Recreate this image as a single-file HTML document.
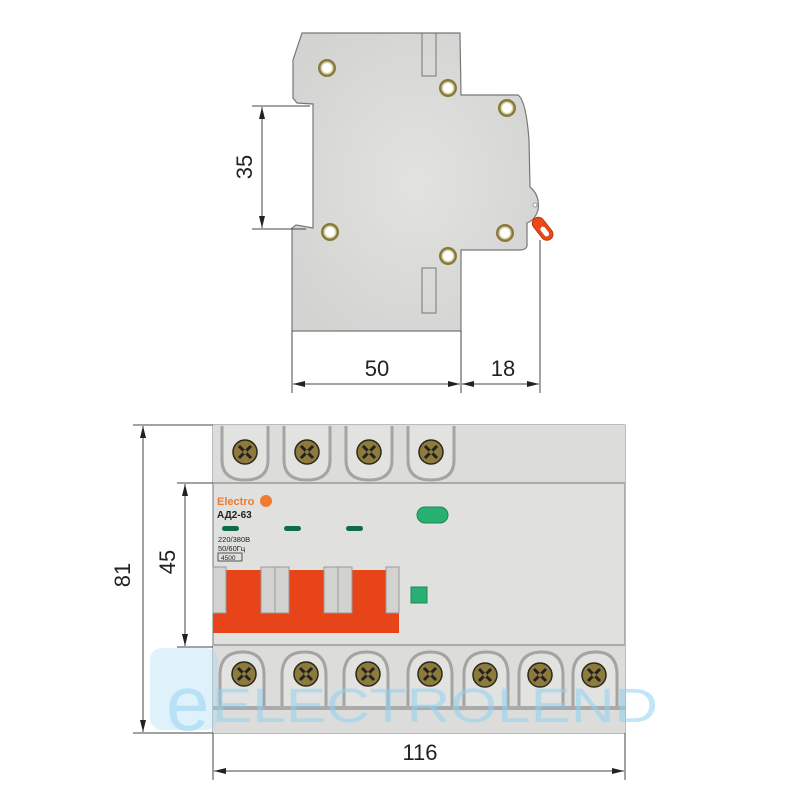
<!DOCTYPE html>
<html><head><meta charset="utf-8"><style>
html,body{margin:0;padding:0;background:#fff}
svg{display:block}
text{font-family:"Liberation Sans",sans-serif}
</style></head><body>
<svg width="800" height="800" viewBox="0 0 800 800" xmlns="http://www.w3.org/2000/svg">
<defs>
<radialGradient id="bg" cx="50%" cy="50%" r="60%"><stop offset="0" stop-color="#e2e3e1"/><stop offset="1" stop-color="#d3d4d2"/></radialGradient>
<marker id="a" viewBox="0 0 12 6" refX="12" refY="3" markerWidth="12" markerHeight="6" orient="auto-start-reverse" markerUnits="userSpaceOnUse"><path d="M0,0L12,3L0,6z" fill="#222"/></marker>
<g id="ss"><circle r="9" fill="#8a7a3a"/><circle r="6.5" fill="#d9d4b0"/><circle r="5" fill="#fff"/></g>
<g id="sc"><circle r="12" fill="#8d7a3c" stroke="#2a2a1a" stroke-width="1.5"/><path d="M-6,-6L6,6M6,-6L-6,6" stroke="#222" stroke-width="3"/><circle r="2" fill="#8d7a3c"/></g>
</defs>
<!-- top side view -->
<path d="M302,33 L460,33 L461,95 L518,95 Q526,100 529,140 L530,187 Q540,195 538,210 Q535,220 527,223 L527,246 Q526,250 520,250 L461,250 L461,331 L292,331 L292,228 L296,225 L313,228 L313,104 L297,103 L293,98 L293,60 Z" fill="url(#bg)" stroke="#777" stroke-width="1.2"/>
<rect x="422" y="33" width="14" height="43" fill="none" stroke="#777"/>
<rect x="422" y="268" width="14" height="45" fill="none" stroke="#777"/>
<use href="#ss" x="327" y="68"/><use href="#ss" x="448" y="88"/><use href="#ss" x="507" y="108"/>
<use href="#ss" x="330" y="232"/><use href="#ss" x="448" y="256"/><use href="#ss" x="505" y="233"/>
<circle cx="535" cy="205" r="2" fill="#fff" stroke="#888" stroke-width=".8"/>
<g transform="translate(542,228) rotate(-38)"><rect x="-6" y="-12" width="12" height="26" rx="6" fill="#e84a1a" stroke="#c23010"/><rect x="-2.5" y="-1" width="5" height="11" rx="2.5" fill="#fff"/></g>
<g stroke="#444" stroke-width="1" fill="none">
<line x1="252" y1="106" x2="310" y2="106"/><line x1="252" y1="229" x2="306" y2="229"/>
<line x1="262" y1="107" x2="262" y2="228" marker-start="url(#a)" marker-end="url(#a)"/>
<line x1="292" y1="331" x2="292" y2="393"/><line x1="461" y1="331" x2="461" y2="393"/><line x1="540" y1="240" x2="540" y2="393"/>
<line x1="293" y1="384" x2="460" y2="384" marker-start="url(#a)" marker-end="url(#a)"/>
<line x1="462" y1="384" x2="539" y2="384" marker-start="url(#a)" marker-end="url(#a)"/>
</g>
<text x="377" y="376" font-size="22" text-anchor="middle" fill="#222">50</text>
<text x="503" y="376" font-size="22" text-anchor="middle" fill="#222">18</text>
<text transform="translate(252,167) rotate(-90)" font-size="22" text-anchor="middle" fill="#222">35</text>
<!-- front view -->
<rect x="213" y="425" width="412" height="308" fill="#e0e1df" stroke="#777"/>
<rect x="213" y="425" width="412" height="58" fill="#dcdddb"/>
<line x1="213" y1="483" x2="625" y2="483" stroke="#aaa" stroke-width="2"/>
<rect x="213" y="645" width="412" height="88" fill="#dcdddb"/>
<line x1="213" y1="645" x2="625" y2="645" stroke="#aaa" stroke-width="2"/>
<g fill="#e2e3e1" stroke="#a4a5a3" stroke-width="3">
<path d="M222,426 L222,460 Q222,480 245,480 Q268,480 268,460 L268,426"/>
<path d="M284,426 L284,460 Q284,480 307,480 Q330,480 330,460 L330,426"/>
<path d="M346,426 L346,460 Q346,480 369,480 Q392,480 392,460 L392,426"/>
<path d="M408,426 L408,460 Q408,480 431,480 Q454,480 454,460 L454,426"/>
</g>
<use href="#sc" x="245" y="452"/><use href="#sc" x="307" y="452"/><use href="#sc" x="369" y="452"/><use href="#sc" x="431" y="452"/>
<g fill="#e2e3e1" stroke="#a4a5a3" stroke-width="3">
<path d="M220,706 L220,675 Q220,652 243,652 Q264,652 264,675 L264,706"/>
<path d="M282,706 L282,675 Q282,652 305,652 Q326,652 326,675 L326,706"/>
<path d="M344,706 L344,675 Q344,652 367,652 Q388,652 388,675 L388,706"/>
<path d="M408,706 L408,675 Q408,652 431,652 Q452,652 452,675 L452,706"/>
<path d="M464,706 L464,675 Q464,652 487,652 Q508,652 508,675 L508,706"/>
<path d="M519,706 L519,675 Q519,652 542,652 Q563,652 563,675 L563,706"/>
<path d="M573,706 L573,675 Q573,652 596,652 Q617,652 617,675 L617,706"/>
</g>
<rect x="213" y="706" width="412" height="4" fill="#aaa"/>
<use href="#sc" x="244" y="674"/><use href="#sc" x="306" y="674"/><use href="#sc" x="368" y="674"/><use href="#sc" x="430" y="674"/><use href="#sc" x="485" y="675"/><use href="#sc" x="540" y="675"/><use href="#sc" x="594" y="675"/>
<text x="217" y="505" font-size="11" font-weight="bold" fill="#f07a30">Electro</text>
<circle cx="266" cy="501" r="6" fill="#f07a30"/>
<text x="217" y="518" font-size="10" font-weight="bold" fill="#222" font-family="Liberation Sans,DejaVu Sans,sans-serif">АД2-63</text>
<rect x="222" y="526" width="17" height="5" rx="2.5" fill="#0d6b45"/>
<rect x="284" y="526" width="17" height="5" rx="2.5" fill="#0d6b45"/>
<rect x="346" y="526" width="17" height="5" rx="2.5" fill="#0d6b45"/>
<rect x="417" y="507" width="31" height="16" rx="8" fill="#27b071" stroke="#1a8a55"/>
<text x="218" y="542" font-size="7.5" fill="#222" font-family="Liberation Sans,DejaVu Sans,sans-serif">220/380В</text>
<text x="218" y="551" font-size="7.5" fill="#222" font-family="Liberation Sans,DejaVu Sans,sans-serif">50/60Гц</text>
<rect x="218" y="553" width="24" height="8" fill="none" stroke="#333" stroke-width=".8"/>
<text x="221" y="560" font-size="6.5" fill="#222">4500</text>
<rect x="213" y="570" width="186" height="63" fill="#e8441a"/>
<g fill="#d2d3d1" stroke="#999">
<rect x="213" y="567" width="13" height="46"/><rect x="261" y="567" width="14" height="46"/><rect x="275" y="567" width="14" height="46"/>
<rect x="324" y="567" width="14" height="46"/><rect x="338" y="567" width="14" height="46"/><rect x="386" y="567" width="13" height="46"/>
</g>
<rect x="411" y="587" width="16" height="16" fill="#27b071" stroke="#1a8a55"/>
<!-- watermark -->
<g opacity="0.55">
<rect x="150" y="648" width="68" height="82" rx="12" fill="#9fd6f0" opacity=".6"/>
<text x="166" y="730" font-size="78" fill="#7fcaf0">e</text>
<text x="212" y="722" font-size="48" fill="#8fd2f2" textLength="446" lengthAdjust="spacingAndGlyphs">ELECTROLEND</text>
</g>
<g stroke="#444" stroke-width="1" fill="none">
<line x1="133" y1="425" x2="213" y2="425"/><line x1="133" y1="733" x2="213" y2="733"/>
<line x1="143" y1="426" x2="143" y2="732" marker-start="url(#a)" marker-end="url(#a)"/>
<line x1="177" y1="483" x2="213" y2="483"/><line x1="177" y1="647" x2="213" y2="647"/>
<line x1="185" y1="484" x2="185" y2="646" marker-start="url(#a)" marker-end="url(#a)"/>
<line x1="213" y1="733" x2="213" y2="780"/><line x1="625" y1="733" x2="625" y2="780"/>
<line x1="214" y1="771" x2="624" y2="771" marker-start="url(#a)" marker-end="url(#a)"/>
</g>
<text x="420" y="760" font-size="22" text-anchor="middle" fill="#222">116</text>
<text transform="translate(130,575) rotate(-90)" font-size="22" text-anchor="middle" fill="#222">81</text>
<text transform="translate(175,562) rotate(-90)" font-size="22" text-anchor="middle" fill="#222">45</text>
</svg>
</body></html>
